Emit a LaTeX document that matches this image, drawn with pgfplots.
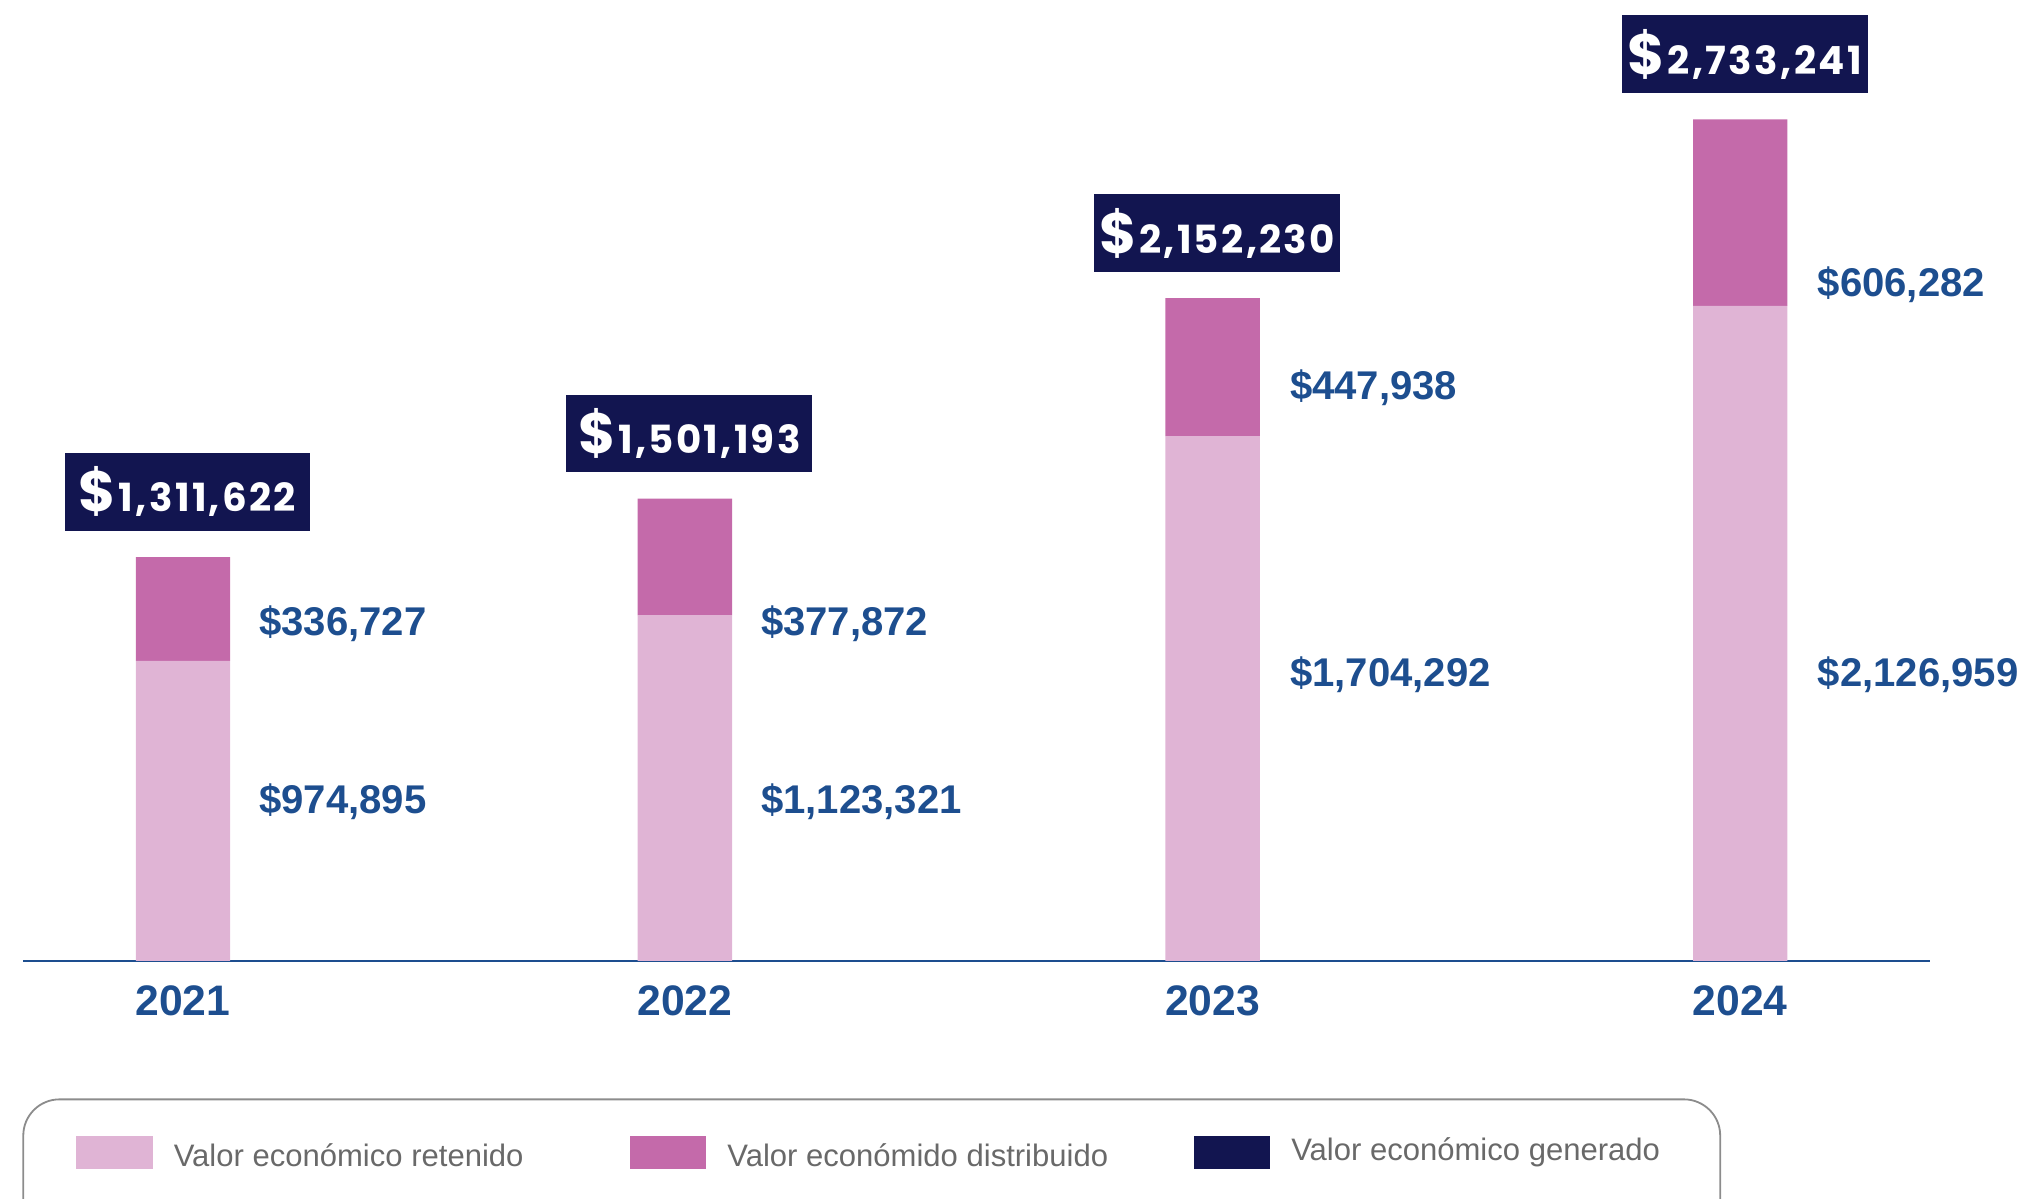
\documentclass[border=0pt]{standalone}
\usepackage{pgfplots}
\pgfplotsset{compat=1.18}
\usepackage{fontspec}
\setmainfont{Liberation Sans}
\newfontfamily\popp{Poppins}
\newfontfamily\poppls{Poppins}[LetterSpace=6]
\definecolor{retcol}{RGB}{224,180,213}
\definecolor{discol}{RGB}{196,106,170}
\definecolor{gencol}{RGB}{18,21,80}
\definecolor{axisblue}{RGB}{29,78,143}
\definecolor{leggray}{RGB}{105,105,105}
\definecolor{boxgray}{RGB}{140,140,140}
\newcommand{\boxlab}[1]{{\popp\bfseries\fontsize{22}{22}\selectfont\$}\hspace{1pt}{\poppls\bfseries\fontsize{15}{15}\selectfont #1}}
\tikzset{
  vlab/.style={anchor=west, inner sep=0pt, text=axisblue, font=\bfseries\fontsize{15.5}{15.5}\selectfont},
  tbox/.style={fill=gencol, text=white, minimum width=95pt, minimum height=30pt, inner sep=0pt, anchor=south, xshift=1.75pt, yshift=10pt},
  llab/.style={anchor=west, inner sep=0pt, text=leggray, font=\fontsize{12}{12}\selectfont},
}
\begin{document}
\begin{tikzpicture}
\useasboundingbox (0,0) rectangle (784pt,463.5pt);
\begin{axis}[
  at={(9pt,92pt)}, anchor=south west,
  scale only axis, width=737pt, height=371.5pt,
  xmin=18, xmax=1492, ymin=0, ymax=3120600,
  ybar stacked, bar width=36.5pt,
  axis x line=bottom, axis y line=none,
  x axis line style={-, draw=axisblue, line width=1pt},
  xtick={141.5,529.5,937.5,1345.5},
  xticklabels={2021,2022,2023,2024},
  major tick length=0pt,
  xticklabel style={font=\bfseries\fontsize{16.5}{16.5}\selectfont, text=axisblue, yshift=-6pt},
  clip=false,
]
\addplot[fill=retcol, draw=none] coordinates {(141.5,974895) (529.5,1123321) (937.5,1704292) (1345.5,2126959)};
\addplot[fill=discol, draw=none] coordinates {(141.5,336727) (529.5,377872) (937.5,447938) (1345.5,606282)};
\node[tbox] at (axis cs:141.5,1311622) {\boxlab{1,311,622}};
\node[tbox] at (axis cs:529.5,1501193) {\boxlab{1,501,193}};
\node[tbox] at (axis cs:937.5,2152230) {\boxlab{2,152,230}};
\node[tbox] at (axis cs:1345.5,2733241) {\boxlab{2,733,241}};
\node[vlab] at (axis cs:200,1096200) {\$336,727};
\node[vlab] at (axis cs:200,516600) {\$974,895};
\node[vlab] at (axis cs:588,1096200) {\$377,872};
\node[vlab] at (axis cs:588,516600) {\$1,123,321};
\node[vlab] at (axis cs:997,1860600) {\$447,938};
\node[vlab] at (axis cs:997,928200) {\$1,704,292};
\node[vlab] at (axis cs:1405,2196600) {\$606,282};
\node[vlab] at (axis cs:1405,928200) {\$2,126,959};
\end{axis}
\draw[boxgray, line width=0.7pt, rounded corners=14pt] (9pt,38.5pt) rectangle (665pt,-40pt);
\fill[retcol] (29.5pt,11.5pt) rectangle ++(29.5pt,13pt);
\fill[discol] (243.5pt,11.5pt) rectangle ++(29.5pt,13pt);
\fill[gencol] (461.5pt,11.5pt) rectangle ++(29.5pt,13pt);
\node[llab] at (67pt,17pt) {Valor económico retenido};
\node[llab] at (281pt,17pt) {Valor económido distribuido};
\node[llab] at (499pt,18pt) {Valor económico generado};
\end{tikzpicture}
\end{document}
